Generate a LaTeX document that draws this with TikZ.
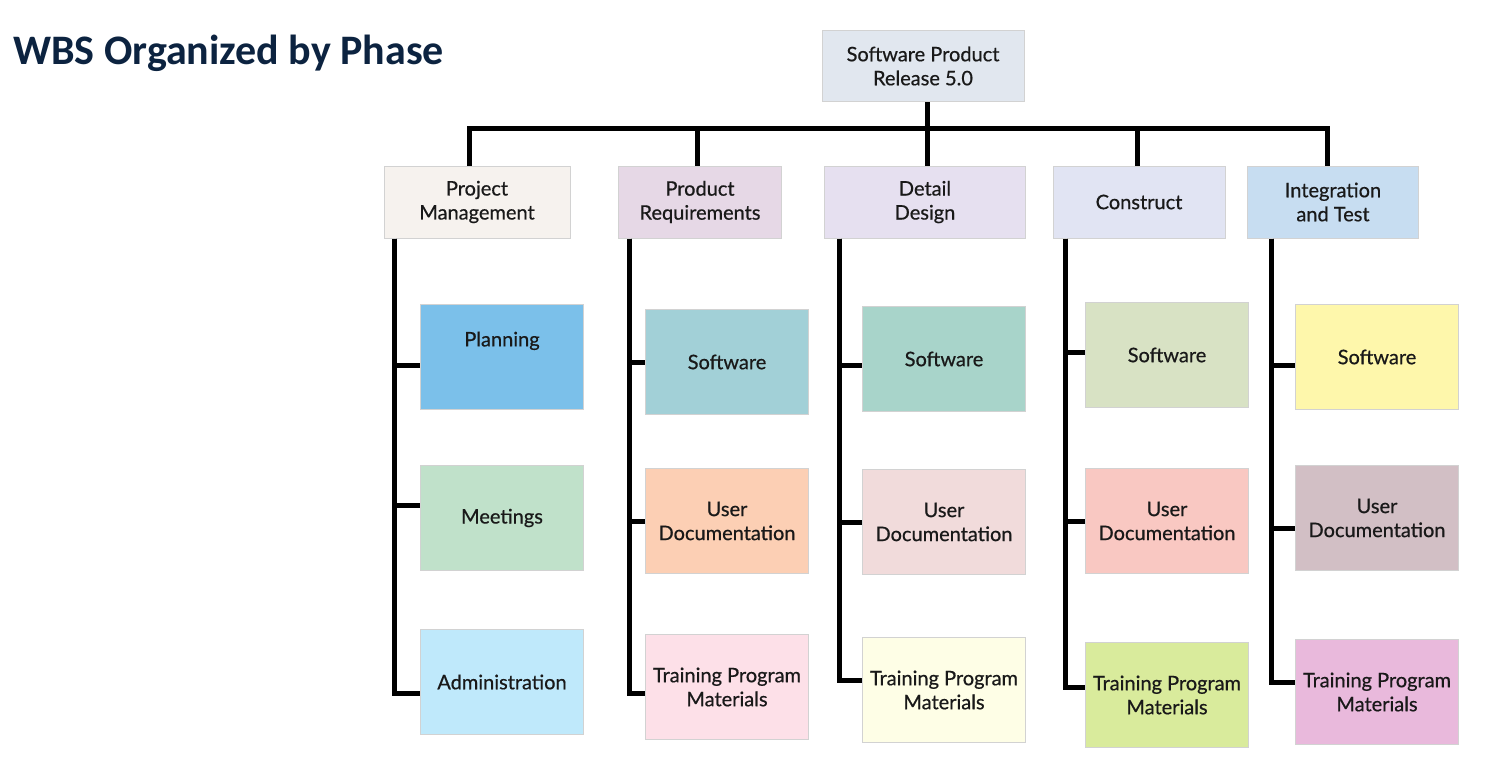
\documentclass[tikz,border=0pt]{standalone}
\usepackage{fontspec}
\setmainfont{Lato}[FakeBold=0.6]
\newfontfamily\titlefont{Carlito}
\usetikzlibrary{positioning}

\definecolor{titleblue}{HTML}{0C2340}
\definecolor{edgegray}{HTML}{D2D2D2}
\definecolor{rootfill}{HTML}{E1E7EF}
\definecolor{pmfill}{HTML}{F6F2EE}
\definecolor{prfill}{HTML}{E6D8E6}
\definecolor{ddfill}{HTML}{E6E0F0}
\definecolor{cofill}{HTML}{E1E4F3}
\definecolor{itfill}{HTML}{C7DDF1}
\definecolor{planfill}{HTML}{7BC0EA}
\definecolor{meetfill}{HTML}{C0E1CA}
\definecolor{adminfill}{HTML}{BFE9FB}
\definecolor{prswfill}{HTML}{A2D0D7}
\definecolor{prudfill}{HTML}{FCCFB4}
\definecolor{prtrfill}{HTML}{FDE0E8}
\definecolor{ddswfill}{HTML}{A8D4CA}
\definecolor{ddudfill}{HTML}{F1DBDB}
\definecolor{ddtrfill}{HTML}{FEFEE6}
\definecolor{coswfill}{HTML}{D8E2C4}
\definecolor{coudfill}{HTML}{F9C8C2}
\definecolor{cotrfill}{HTML}{D9EB9C}
\definecolor{itswfill}{HTML}{FEF7AB}
\definecolor{itudfill}{HTML}{D2BFC5}
\definecolor{ittrfill}{HTML}{E9B9DC}

\tikzset{
  wbsbox/.style={draw=edgegray,line width=1pt,inner sep=0pt,align=center,
    font=\fontsize{20}{24}\selectfont,text=black!90},
  phase/.style={wbsbox,minimum height=72pt},
  task/.style={wbsbox,minimum width=163pt,minimum height=105pt},
  conn/.style={line width=5pt,black}
}

\begin{document}
\begin{tikzpicture}[x=1pt,y=-1pt]
  \useasboundingbox (0,0) rectangle (1486,774);
  \node[anchor=base west,inner sep=0pt,text=titleblue,font=\titlefont\bfseries\fontsize{42}{46}\selectfont]
    (title) at (13,64) {WBS Organized by Phase};
  % top level
  \node[phase,fill=rootfill,minimum width=202pt,minimum height=71pt] (root) at (923,66)
    {Software Product\\Release 5.0};
  \coordinate (bar) at (0,128);
  % phases
  \node[phase,fill=pmfill,minimum width=186pt] (pm) at (477,202) {Project\\Management};
  \node[phase,fill=prfill,minimum width=163pt] (pr) at (700,202) {Product\\Requirements};
  \node[phase,fill=ddfill,minimum width=201pt] (dd) at (925,202) {Detail\\Design};
  \node[phase,fill=cofill,minimum width=172pt] (co) at (1139,202) {Construct};
  \node[phase,fill=itfill,minimum width=171pt] (it) at (1333,202) {Integration\\and Test};
  % work packages
  \node[task,fill=planfill] (pm1) at (502,357) {Planning\\[12pt]};
  \node[task,fill=meetfill] (pm2) at (502,518) {Meetings};
  \node[task,fill=adminfill] (pm3) at (502,682) {Administration};
  \node[task,fill=prswfill] (pr1) at (727,362) {Software};
  \node[task,fill=prudfill] (pr2) at (727,521) {User\\Documentation};
  \node[task,fill=prtrfill] (pr3) at (727,687) {Training Program\\Materials};
  \node[task,fill=ddswfill] (dd1) at (944,359) {Software};
  \node[task,fill=ddudfill] (dd2) at (944,522) {User\\Documentation};
  \node[task,fill=ddtrfill] (dd3) at (944,690) {Training Program\\Materials};
  \node[task,fill=coswfill] (co1) at (1167,355) {Software};
  \node[task,fill=coudfill] (co2) at (1167,521) {User\\Documentation};
  \node[task,fill=cotrfill] (co3) at (1167,695) {Training Program\\Materials};
  \node[task,fill=itswfill] (it1) at (1377,357) {Software};
  \node[task,fill=itudfill] (it2) at (1377,518) {User\\Documentation};
  \node[task,fill=ittrfill] (it3) at (1377,692) {Training Program\\Materials};
  % connectors
  \draw[conn] ([xshift=4pt]root.south) -- ([xshift=4pt]root.south |- bar);
  \draw[conn] ([xshift=-8pt]pm.north) -- ([xshift=-8pt]pm.north |- bar)
    -- ([xshift=-6pt]it.north |- bar) -- ([xshift=-6pt]it.north);
  \foreach \p/\d in {pr/-3,dd/2,co/-2}
    \draw[conn] ([xshift=\d pt]\p.north) -- ([xshift=\d pt]\p.north |- bar);
  % spines, with the branch heights as they sit in the chart
  \foreach \p/\s/\a/\b/\c in {pm/11/-8/13/-11,pr/11/0/0/-6,dd/15/-6/0/10,
      co/13/3/0/8,it/24/-8/-10/10}
    \foreach \k/\y in {1/\a,2/\b,3/\c}
      \draw[conn] ([xshift=\s pt]\p.south west) |- ([yshift=\y pt]\p\k.west);
\end{tikzpicture}
\end{document}
